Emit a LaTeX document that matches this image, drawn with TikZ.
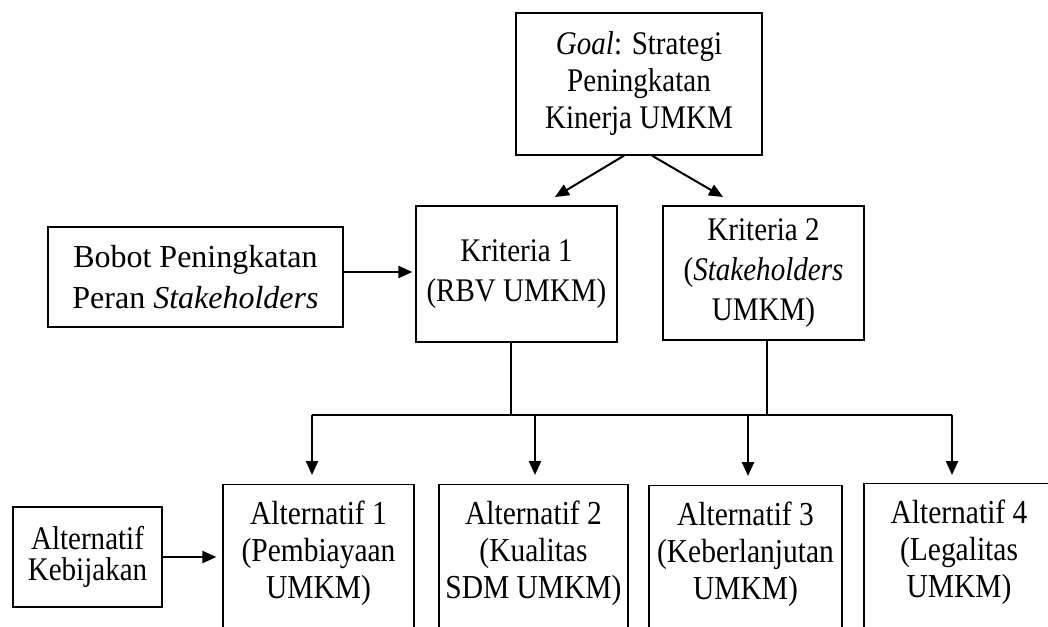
\documentclass[tikz,border=0pt]{standalone}
\usepackage{fontspec}
\setmainfont{Liberation Serif}
\newfontfamily\sqA[FakeStretch=0.88]{Liberation Serif}
\usetikzlibrary{arrows.meta}
\begin{document}
\begin{tikzpicture}[x=1pt,y=-1pt,
  box/.style={draw, line width=1.3pt, inner sep=0pt, align=center},
  goalfont/.style={font=\sqA\fontsize{33}{37}\selectfont},
  kritfont/.style={font=\sqA\fontsize{33}{40}\selectfont},
  altfont/.style={font=\sqA\fontsize{33.5}{37}\selectfont},
  bobotfont/.style={font=\fontsize{32}{41}\selectfont},
  kebfont/.style={font=\sqA\fontsize{33}{31}\selectfont},
  arr/.style={-{Triangle[length=14pt,width=12pt]}, line width=2.4pt},
  bus/.style={line width=1.4pt},
  thinline/.style={line width=1.1pt}]
\useasboundingbox (0,0) rectangle (1048,626);
\clip (0,0) rectangle (1048,626);

% top level
\node[box, goalfont, minimum width=246pt, minimum height=142pt] (goal) at (639,84)
  {\textit{Goal}: Strategi\\Peningkatan\\Kinerja UMKM};

% middle level
\node[box, bobotfont, minimum width=295pt, minimum height=100pt] (bobot) at (195.5,277)
  {Bobot Peningkatan\\Peran \textit{Stakeholders}};
\node[box, kritfont, minimum width=201pt, minimum height=136pt] (k1) at (516.5,274)
  {Kriteria 1\\(RBV UMKM)};
\node[box, kritfont, minimum width=201pt, minimum height=134pt] (k2) at (763.5,273)
  {Kriteria 2\\(\textit{Stakeholders}\\UMKM)};

% bottom level
\node[box, kebfont, minimum width=149pt, minimum height=100pt] (keb) at (87.5,557)
  {Alternatif\\Kebijakan};
\node[box, anchor=north, minimum width=191pt, minimum height=200pt] (a1) at (318.5,484) {};
\node[box, anchor=north, minimum width=189pt, minimum height=200pt] (a2) at (533.5,484) {};
\node[box, anchor=north, minimum width=193pt, minimum height=200pt] (a3) at (745.5,485) {};
\node[box, anchor=north, minimum width=190pt, minimum height=200pt] (a4) at (959,483) {};
\node[altfont, align=center, inner sep=0pt, anchor=north] (a1t) at ([yshift=-17pt]a1.north)
  {Alternatif 1\\(Pembiayaan\\UMKM)};
\node[altfont, align=center, inner sep=0pt, anchor=north] (a2t) at ([yshift=-17pt]a2.north)
  {Alternatif 2\\(Kualitas\\SDM UMKM)};
\node[altfont, align=center, inner sep=0pt, anchor=north] (a3t) at ([yshift=-17pt]a3.north)
  {Alternatif 3\\(Keberlanjutan\\UMKM)};
\node[altfont, align=center, inner sep=0pt, anchor=north] (a4t) at ([yshift=-17pt]a4.north)
  {Alternatif 4\\(Legalitas\\UMKM)};

% goal to criteria arrows
\coordinate (g1) at ([xshift=-15pt]goal.south);
\coordinate (g2) at ([xshift=13pt]goal.south);
\coordinate (t1) at (555,197);
\coordinate (t2) at (723,197);
\draw[arr, line width=2pt] (g1) -- (t1);
\draw[arr, line width=2pt] (g2) -- (t2);

% bobot to kriteria 1
\draw[arr, shorten >=3pt] ([yshift=5pt]bobot.east) -- ([yshift=5pt]bobot.east -| k1.west);

% bus
\coordinate (b1) at (312,415);
\coordinate (b2) at (535,415);
\coordinate (b3) at (748,415);
\coordinate (b4) at (952,415);
\draw[thinline] ([xshift=-5.5pt]k1.south) -- ([xshift=-5.5pt]k1.south |- b1);
\draw[thinline] ([xshift=3.5pt]k2.south) -- ([xshift=3.5pt]k2.south |- b1);
\draw[bus] (b1) -- (b4);
\draw[arr, shorten >=9pt] (b1) -- (b1 |- a1.north);
\draw[arr, shorten >=9pt] (b2) -- (b2 |- a2.north);
\draw[arr, shorten >=9pt] (b3) -- (b3 |- a3.north);
\draw[arr, shorten >=8pt] (b4) -- (b4 |- a4.north);

% kebijakan to alternatif 1
\draw[arr, shorten >=6pt] (keb.east) -- (keb.east -| a1.west);
\end{tikzpicture}
\end{document}
